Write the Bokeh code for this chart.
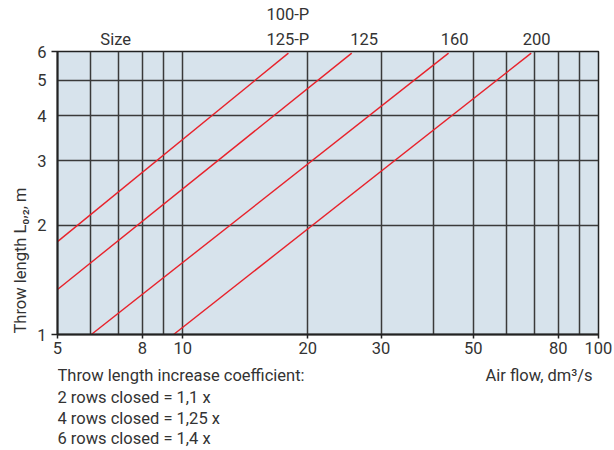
import math
from bokeh.plotting import figure
from bokeh.layouts import column, row
from bokeh.models import (FixedTicker, CustomJSTickFormatter, ColumnDataSource, Range1d,
                          LogAxis)
from bokeh.core.properties import value
from bokeh.embed import file_html
from bokeh.resources import INLINE

# ---- data ----
x_major_ticks = [5, 8, 10, 20, 30, 50, 80, 100]
x_minor_ticks = [6, 7, 9, 40, 60, 70, 90]
y_ticks = [1, 2, 3, 4, 5, 6]
y_end_ticks = [1, 6]

sizes = ["100-P", "125", "160", "200"]
line_x_start = [5.0, 5.0, 6.03, 9.51]
line_y_start = [1.80, 1.33, 1.0, 1.0]
line_x_end = [17.96, 25.5, 43.6, 68.9]
line_y_end = [5.94, 5.94, 5.94, 5.94]

size_row1_x = [6.9, 17.9, 27.3, 45.1, 71.0]
size_row1_text = ["Size", "125-P", "125", "160", "200"]
size_row2_x = [17.9]
size_row2_text = ["100-P"]

notes = ["Throw length increase coefficient:",
         "2 rows closed = 1,1 x",
         "4 rows closed = 1,25 x",
         "6 rows closed = 1,4 x"]
x_title = "Air flow, dm\u00b3/s"
y_title = "Throw length L\u2080,\u2082, m"

FONT = "Roboto"
TXT = "#333333"
DARK = "#222222"
FS = "16.5px"
W, H = 614, 450
SIDE = 34                      # left strip holding the y title
LB, RB = 56 - SIDE, 16
MAIN_H, BOT_H = 362, 88
CW = W - SIDE

xr = Range1d(5, 100)

def strip(width, height, x_log=True, xrange=None):
    f = figure(width=width, height=height,
               x_axis_type="log" if x_log else "linear",
               x_range=xrange, y_range=(0, height),
               x_axis_location=None, y_axis_location=None,
               output_backend="svg", toolbar_location=None,
               min_border_left=0 if not x_log else LB,
               min_border_right=0 if not x_log else RB,
               min_border_top=0, min_border_bottom=0)
    f.outline_line_color = None
    f.grid.visible = False
    return f

# ---------- left strip: y title ----------
side = strip(SIDE, H, x_log=False, xrange=(0, SIDE))
side.text(x=[20], y=[H - 333], text=[y_title], angle=math.pi / 2,
          text_align="left", text_baseline="middle",
          text_font=value(FONT), text_font_size=FS, text_color=TXT)

# ---------- main chart ----------
p = figure(width=CW, height=MAIN_H, x_axis_type="log", y_axis_type="log",
           x_range=xr, y_range=(1, 6),
           output_backend="svg", toolbar_location=None,
           min_border_left=LB, min_border_right=RB,
           min_border_top=51, min_border_bottom=28)
p.background_fill_color = "#d7e3ec"
p.border_fill_color = "white"
p.outline_line_color = DARK
p.outline_line_width = 1.5

fmt = "return tick.toString()"
blank = "return ''"
p.xaxis.ticker = FixedTicker(ticks=x_major_ticks, minor_ticks=x_minor_ticks)
p.xaxis.formatter = CustomJSTickFormatter(code=fmt)

# y labels axis (no line, no ticks)
ylab = p.yaxis[0]
ylab.ticker = FixedTicker(ticks=y_ticks, minor_ticks=[])
ylab.formatter = CustomJSTickFormatter(code=fmt)
ylab.axis_line_color = None
ylab.major_tick_line_color = None
ylab.major_tick_in = 0
ylab.major_tick_out = 0
ylab.major_label_standoff = 5

# inner y axis: line and the two end ticks only
ytick = LogAxis(ticker=FixedTicker(ticks=y_end_ticks, minor_ticks=[]),
                formatter=CustomJSTickFormatter(code=blank))
ytick.major_tick_out = 6
ytick.major_label_standoff = 0
ytick.major_label_text_font_size = "1px"
p.add_layout(ytick, "left")
p.left = [ytick, ylab]

for ax in (p.xaxis[0], ylab, ytick):
    if ax is not ylab:
        ax.axis_line_color = DARK
        ax.axis_line_width = 2
        ax.major_tick_line_color = DARK
        ax.major_tick_line_width = 1.5
    ax.major_tick_in = 0
    ax.minor_tick_in = 0
    ax.minor_tick_out = 0
    ax.minor_tick_line_color = None
    if ax is not ytick:
        ax.major_label_text_font = FONT
        ax.major_label_text_font_size = FS
        ax.major_label_text_color = TXT
p.xaxis.major_tick_out = 4
p.xaxis.major_label_standoff = 3

# size labels as unlined axes above the frame
lab_code = """
const i = vals.findIndex(v => Math.abs(v - tick) < 1e-6 * v);
return i >= 0 ? labs[i] : '';
"""
for xs, ts in ((size_row1_x, size_row1_text), (size_row2_x, size_row2_text)):
    ax = LogAxis(ticker=FixedTicker(ticks=xs, minor_ticks=[]),
                 formatter=CustomJSTickFormatter(args=dict(vals=xs, labs=ts), code=lab_code))
    ax.axis_line_color = None
    ax.major_tick_line_color = None
    ax.minor_tick_line_color = None
    ax.major_tick_in = 0
    ax.major_tick_out = 0
    ax.minor_tick_in = 0
    ax.minor_tick_out = 0
    ax.major_label_standoff = 3
    ax.major_label_text_font = FONT
    ax.major_label_text_font_size = FS
    ax.major_label_text_color = TXT
    p.add_layout(ax, "above")

p.xgrid.grid_line_color = "#3a3a3a"
p.xgrid.grid_line_width = 1.5
p.xgrid.minor_grid_line_color = "#3a3a3a"
p.xgrid.minor_grid_line_width = 1.5
p.ygrid.grid_line_color = "#3a3a3a"
p.ygrid.grid_line_width = 1.5

src = ColumnDataSource(dict(x0=line_x_start, y0=line_y_start,
                            x1=line_x_end, y1=line_y_end, size=sizes))
p.segment(x0="x0", y0="y0", x1="x1", y1="y1", source=src,
          line_color="#e8222b", line_width=1.4)

# ---------- bottom strip: notes and x title ----------
bot = strip(CW, BOT_H, xrange=xr)
note_y = [BOT_H - 13, BOT_H - 35, BOT_H - 56, BOT_H - 76]
nsrc = ColumnDataSource(dict(x=[5] * len(notes), y=note_y, t=notes))
bot.text(x="x", y="y", text="t", source=nsrc, text_align="left", text_baseline="middle",
         text_font=value(FONT), text_font_size=FS, text_color=TXT)
bot.text(x=[96.8], y=[note_y[0]], text=[x_title], text_align="right", text_baseline="middle",
         text_font=value(FONT), text_font_size=FS, text_color=TXT)

layout = row(side, column(p, bot, spacing=0), spacing=0)
open("out.html", "w").write(file_html(layout, INLINE))
